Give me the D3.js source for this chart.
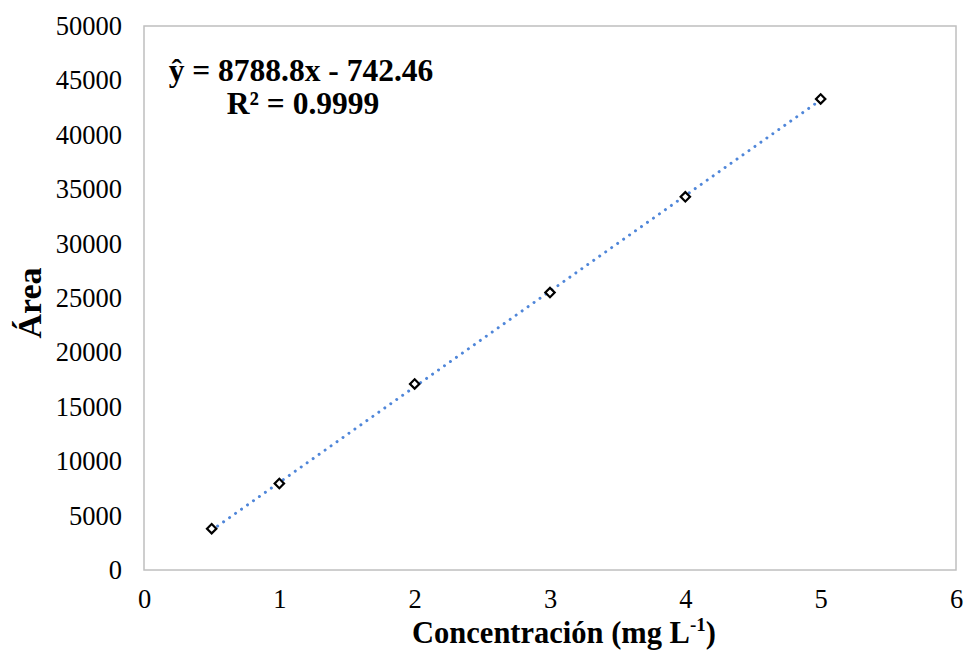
<!DOCTYPE html>
<html>
<head>
<meta charset="utf-8">
<script src="https://cdn.jsdelivr.net/npm/d3@7"></script>
<style>
  html, body { margin: 0; padding: 0; background: #fff; }
  svg { display: block; }
  text { font-family: "Liberation Serif", "Times New Roman", serif; fill: #000; }
</style>
</head>
<body>
<svg id="chart" width="964" height="660"></svg>
<script>
// Calibration standards: concentration (mg/L) and measured peak area
const concentrations = [0.5, 1, 2, 3, 4, 5];
const areas = [3800, 7950, 17100, 25500, 34300, 43300];

// Linear fit reported for the calibration curve
const slope = 8788.8;
const intercept = -742.46;
const rSquared = 0.9999;

const xTicks = [0, 1, 2, 3, 4, 5, 6];
const yTicks = [0, 5000, 10000, 15000, 20000, 25000, 30000, 35000, 40000, 45000, 50000];

const svg = d3.select("#chart");
const margin = { left: 144, right: 8, top: 26, bottom: 90 };
const W = 964, H = 660;

const x = d3.scaleLinear().domain([0, 6]).range([margin.left, W - margin.right]);
const y = d3.scaleLinear().domain([0, 50000]).range([H - margin.bottom, margin.top]);

// plot frame
svg.append("rect")
  .attr("x", x(0)).attr("y", y(50000))
  .attr("width", x(6) - x(0)).attr("height", y(0) - y(50000))
  .attr("fill", "none").attr("stroke", "#bfbfbf").attr("stroke-width", 1.5);

// axes (labels only, no tick marks)
const xAxis = svg.append("g")
  .attr("transform", `translate(0,${y(0)})`)
  .call(d3.axisBottom(x).tickValues(xTicks).tickSize(0).tickPadding(19).tickFormat(d3.format("d")));
const yAxis = svg.append("g")
  .attr("transform", `translate(${x(0)},0)`)
  .call(d3.axisLeft(y).tickValues(yTicks).tickSize(0).tickPadding(22).tickFormat(d3.format("d")));
[xAxis, yAxis].forEach(g => {
  g.select(".domain").remove();
  g.selectAll("text")
    .style("font-family", '"Liberation Serif", "Times New Roman", serif')
    .style("font-size", "26.5px").attr("fill", "#000");
});

// trendline from the fitted equation, over the calibrated range
const fitX = d3.extent(concentrations);
svg.append("line")
  .attr("x1", x(fitX[0])).attr("y1", y(slope * fitX[0] + intercept))
  .attr("x2", x(fitX[1])).attr("y2", y(slope * fitX[1] + intercept))
  .attr("stroke", "#4f86d9").attr("stroke-width", 3)
  .attr("stroke-linecap", "round").attr("stroke-dasharray", "0.01 7.3");

// data markers: open diamonds
const diamond = d3.symbol().type(d3.symbolSquare).size(44);
svg.append("g").selectAll("path")
  .data(concentrations.map((c, i) => [c, areas[i]]))
  .join("path")
  .attr("d", diamond)
  .attr("transform", d => `translate(${x(d[0])},${y(d[1])}) rotate(45)`)
  .attr("fill", "#fff").attr("stroke", "#000").attr("stroke-width", 2.2);

// fitted equation annotation, two lines
svg.append("text")
  .attr("x", 301).attr("y", 81)
  .attr("text-anchor", "middle")
  .style("font-size", "31.5px").style("font-weight", "bold")
  .text(`ŷ = ${slope}x - ${Math.abs(intercept)}`);
svg.append("text")
  .attr("x", 303).attr("y", 114)
  .attr("text-anchor", "middle")
  .style("font-size", "31.5px").style("font-weight", "bold")
  .text(`R² = ${rSquared}`);

// axis titles
const xt = svg.append("text")
  .attr("x", 564).attr("y", 643)
  .attr("text-anchor", "middle")
  .style("font-size", "30.5px").style("font-weight", "bold");
xt.append("tspan").text("Concentración (mg L");
xt.append("tspan").attr("dy", -12).style("font-size", "19px").text("-1");
xt.append("tspan").attr("dy", 12).text(")");

svg.append("text")
  .attr("transform", `translate(41,303) rotate(-90)`)
  .attr("text-anchor", "middle")
  .style("font-size", "34px").style("font-weight", "bold")
  .text("Área");
</script>
</body>
</html>
